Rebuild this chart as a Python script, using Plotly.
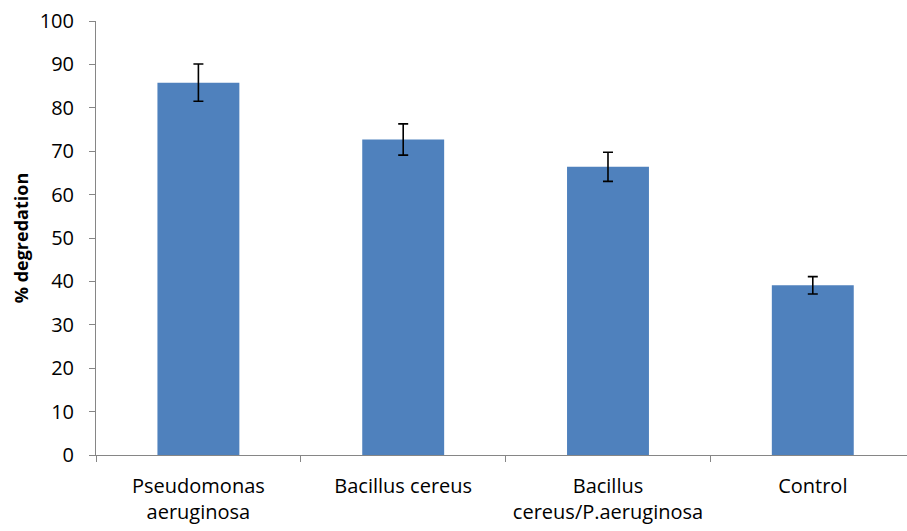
import plotly.graph_objects as go

categories = ["Pseudomonas<br>aeruginosa", "Bacillus cereus", "Bacillus<br>cereus/P.aeruginosa", "Control"]
degradation = [85.8, 72.7, 66.4, 39.1]
errors = [4.3, 3.6, 3.35, 2.0]
y_ticks = [0, 10, 20, 30, 40, 50, 60, 70, 80, 90, 100]

fig = go.Figure()
fig.add_trace(go.Bar(
    x=categories,
    y=degradation,
    width=0.4,
    marker=dict(color="#4F81BD", line=dict(width=0)),
    error_y=dict(type="data", array=errors, visible=True, color="black", thickness=1.6, width=5),
))

axis_grey = "#868686"
fig.update_layout(
    width=907, height=531,
    margin=dict(l=96, r=0, t=21, b=76),
    paper_bgcolor="white", plot_bgcolor="white",
    font=dict(family="Open Sans", size=20, color="black"),
    showlegend=False,
    bargap=0.6,
)
fig.update_xaxes(
    type="category",
    range=[-0.5, 3.46],
    automargin=False,
    showline=True, linecolor=axis_grey, linewidth=1,
    ticks="outside", ticklen=6, tickcolor=axis_grey, tickwidth=1,
    tickson="boundaries",
    ticklabelstandoff=13,
    showgrid=False,
    tickfont=dict(family="Open Sans", size=20, color="black"),
)
fig.update_yaxes(
    range=[0, 100],
    automargin=False,
    tickvals=y_ticks,
    showline=True, linecolor=axis_grey, linewidth=1,
    ticks="outside", ticklen=6, tickcolor=axis_grey, tickwidth=1,
    ticklabelstandoff=11,
    showgrid=False, zeroline=False,
    tickfont=dict(family="Open Sans", size=20, color="black"),
    title=dict(text="<b>% degredation</b>", font=dict(family="Open Sans", size=18, color="black"), standoff=6),
)

fig.write_html("out.html", config={"displayModeBar": False},
               post_script="document.body.style.margin='0';")
